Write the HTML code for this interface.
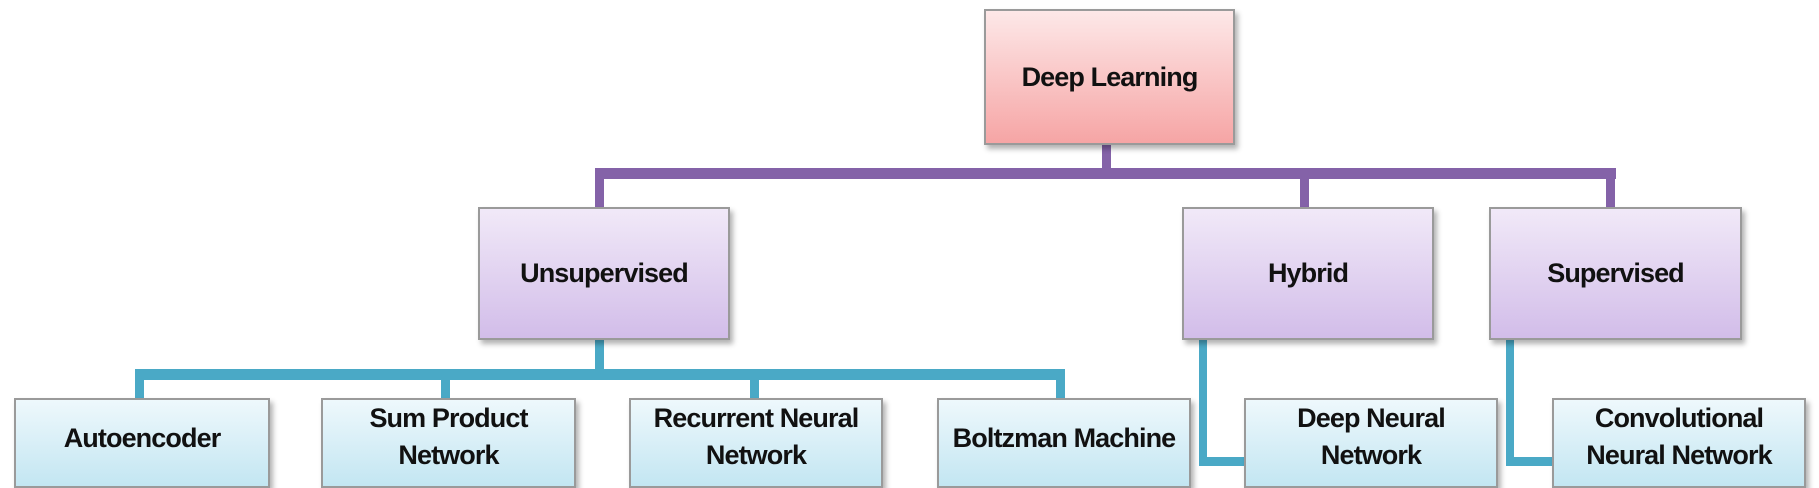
<!DOCTYPE html>
<html><head><style>
body{margin:0;width:1819px;height:476px;background:#fff;position:relative;overflow:hidden;font-family:"Liberation Sans",sans-serif;}
.b{position:absolute;box-sizing:border-box;border:2px solid #9a9a9a;box-shadow:3px 4px 5px rgba(0,0,0,0.3);display:flex;align-items:center;justify-content:center;text-align:center;font-weight:bold;font-size:27px;line-height:37px;color:#111;letter-spacing:-0.9px;white-space:nowrap}
.p{background:linear-gradient(#fde8e8,#f6a5a5)}
.v{background:linear-gradient(#f1e9f8,#d2bde9)}
.c{background:linear-gradient(#eef8fc,#c3e6f2);align-items:flex-start;padding-top:0px}
.l{position:absolute}
.pu{background:#8462a8}
.bl{background:#4aa9c6}
</style></head><body>
<div class="l pu" style="left:1102px;top:144px;width:9px;height:30px"></div>
<div class="l pu" style="left:595px;top:168px;width:1021px;height:11px"></div>
<div class="l pu" style="left:595px;top:168px;width:9px;height:40px"></div>
<div class="l pu" style="left:1300px;top:168px;width:9px;height:40px"></div>
<div class="l pu" style="left:1606px;top:168px;width:9px;height:40px"></div>

<div class="l bl" style="left:595px;top:339px;width:9px;height:36px"></div>
<div class="l bl" style="left:135px;top:369px;width:929px;height:11px"></div>
<div class="l bl" style="left:135px;top:369px;width:9px;height:30px"></div>
<div class="l bl" style="left:441px;top:369px;width:9px;height:30px"></div>
<div class="l bl" style="left:750px;top:369px;width:9px;height:30px"></div>
<div class="l bl" style="left:1056px;top:369px;width:9px;height:30px"></div>
<div class="l bl" style="left:1199px;top:339px;width:8px;height:127px"></div>
<div class="l bl" style="left:1199px;top:457px;width:48px;height:9px"></div>
<div class="l bl" style="left:1506px;top:339px;width:8px;height:127px"></div>
<div class="l bl" style="left:1506px;top:457px;width:48px;height:9px"></div>

<div class="b p" style="left:984px;top:9px;width:251px;height:136px">Deep Learning</div>
<div class="b v" style="left:478px;top:207px;width:252px;height:133px">Unsupervised</div>
<div class="b v" style="left:1182px;top:207px;width:252px;height:133px">Hybrid</div>
<div class="b v" style="left:1489px;top:207px;width:253px;height:133px">Supervised</div>

<div class="b c" style="left:14px;top:398px;width:256px;height:90px;padding-top:20px">Autoencoder</div>
<div class="b c" style="left:321px;top:398px;width:255px;height:90px">Sum Product<br>Network</div>
<div class="b c" style="left:629px;top:398px;width:254px;height:90px">Recurrent Neural<br>Network</div>
<div class="b c" style="left:937px;top:398px;width:254px;height:90px;padding-top:20px">Boltzman Machine</div>
<div class="b c" style="left:1244px;top:398px;width:254px;height:90px">Deep Neural<br>Network</div>
<div class="b c" style="left:1552px;top:398px;width:254px;height:90px">Convolutional<br>Neural Network</div>
</body></html>
